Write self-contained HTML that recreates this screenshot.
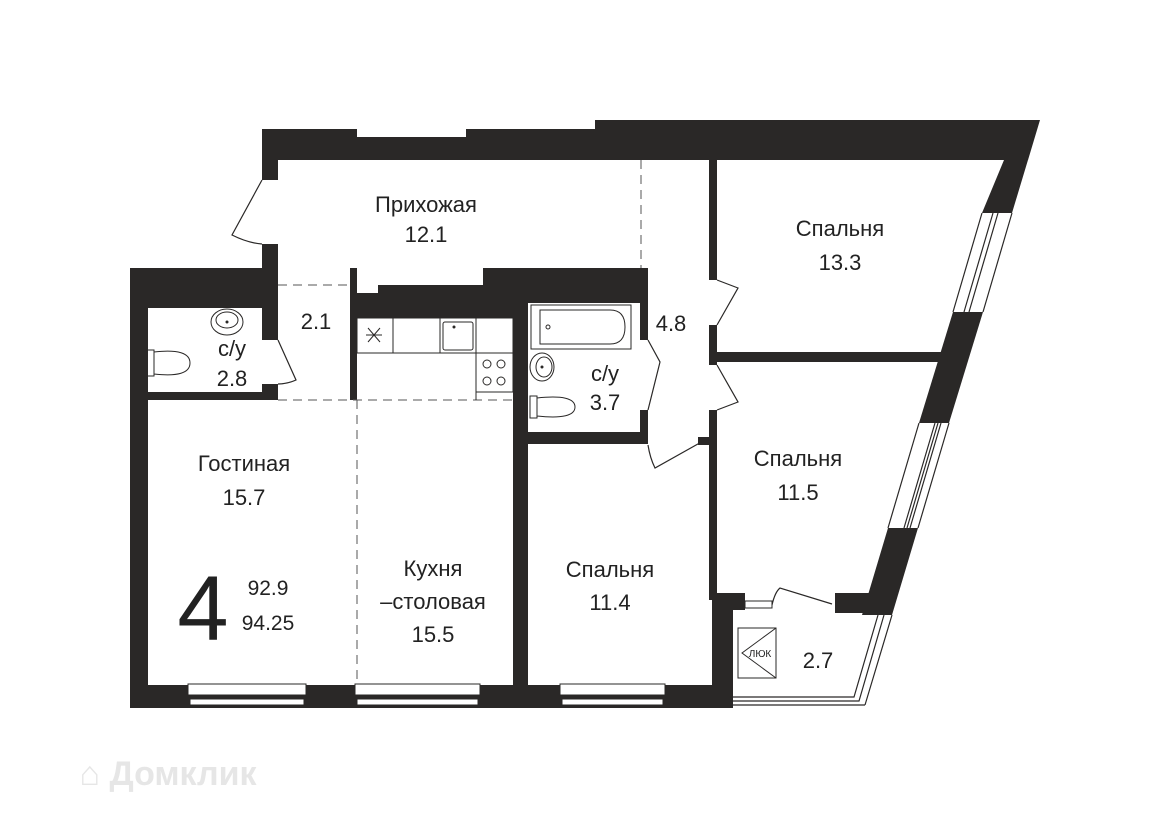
<!DOCTYPE html>
<html><head><meta charset="utf-8"><style>
html,body{margin:0;padding:0;background:#fff;}
svg{display:block}
text{font-family:"Liberation Sans","DejaVu Sans",sans-serif;fill:#222;text-anchor:middle;font-size:22px;}
</style></head><body>
<svg width="1170" height="828" viewBox="0 0 1170 828" xmlns="http://www.w3.org/2000/svg">
<g fill="#2a2827">
<polygon points="262,129 357,129 357,137 466,137 466,129 595,129 595,120 1040,120 1028,160 278,160 278,180 262,180"/>
<polygon points="1040,120 1012,213 982,213 1004,160 1028,160"/>
<polygon points="983,312 949,423 919,423 953,312"/>
<polygon points="918,528 892,615 862,615 888,528"/>
<rect x="262" y="244" width="16" height="64"/>
<rect x="130" y="268" width="148" height="40"/>
<rect x="130" y="268" width="18" height="440"/>
<rect x="148" y="392" width="130" height="8"/>
<rect x="262" y="308" width="16" height="32"/>
<rect x="262" y="384" width="16" height="10"/>
<rect x="350" y="268" width="7" height="132"/>
<polygon points="357,318 357,293 378,293 378,285 483,285 483,268 640,268 640,303 528,303 528,318"/>
<rect x="513" y="268" width="15" height="440"/>
<rect x="513" y="432" width="135" height="12"/>
<rect x="640" y="268" width="8" height="72"/>
<rect x="640" y="410" width="8" height="24"/>
<rect x="709" y="160" width="8" height="120"/>
<rect x="709" y="325" width="8" height="40"/>
<rect x="709" y="410" width="8" height="190"/>
<polygon points="717,352 950,352 947,362 717,362"/>
<rect x="698" y="437" width="12" height="8"/>
<rect x="130" y="685" width="603" height="23"/>
<rect x="712" y="593" width="21" height="115"/>
<rect x="712" y="593" width="33" height="17"/>
<rect x="835" y="593" width="43" height="20"/>
</g>
<g fill="#fff" stroke="#2a2827" stroke-width="1">
<rect x="188" y="684" width="118" height="11"/><rect x="190" y="699" width="114" height="6"/>
<rect x="355" y="684" width="125" height="11"/><rect x="357" y="699" width="121" height="6"/>
<rect x="560" y="684" width="105" height="11"/><rect x="562" y="699" width="101" height="6"/>
<rect x="745" y="601" width="27" height="7"/>
</g>
<g stroke="#2a2827" stroke-width="1.2" fill="none">
<line x1="1012" y1="213" x2="983" y2="312"/>
<line x1="982" y1="213" x2="953" y2="312"/>
<line x1="998" y1="213" x2="969" y2="312"/>
<line x1="993" y1="213" x2="964" y2="312"/>
<line x1="949" y1="423" x2="918" y2="528"/>
<line x1="919" y1="423" x2="888" y2="528"/>
<line x1="935" y1="423" x2="904" y2="528"/>
<line x1="938" y1="423" x2="907" y2="528"/>
<line x1="941" y1="423" x2="910" y2="528"/>
<line x1="892" y1="615" x2="865" y2="705"/>
<polyline points="878,615 854,697 733,697"/>
<polyline points="884,615 859,701 733,701"/>
<line x1="865" y1="705" x2="733" y2="705"/>
</g>
<g stroke="#2a2827" stroke-width="1.2" fill="none">
<path d="M262,180 L232,235 Q248,243 262,244"/>
<path d="M278,340 L296,380 Q287,384 278,384"/>
<path d="M648,340 L660,362 L648,410"/>
<path d="M717,280 L738,288 L717,325"/>
<path d="M717,365 L738,402 L717,410"/>
<path d="M648,445 Q650,458 655,468 L705,440"/>
<path d="M772,605 Q775,592 780,588 L832,604"/>
</g>
<g stroke="#555" stroke-width="1" stroke-dasharray="9,6" fill="none">
<line x1="641" y1="160" x2="641" y2="268"/>
<line x1="278" y1="285" x2="350" y2="285"/>
<line x1="278" y1="400" x2="513" y2="400"/>
<line x1="357" y1="400" x2="357" y2="685"/>
</g>
<g stroke="#2a2827" stroke-width="1" fill="none">
<rect x="357" y="318" width="156" height="35"/>
<line x1="393" y1="318" x2="393" y2="353"/><line x1="440" y1="318" x2="440" y2="353"/><line x1="476" y1="318" x2="476" y2="400"/>
<rect x="476" y="353" width="37" height="39"/>
<rect x="443" y="322" width="30" height="28" rx="2"/>
<path d="M368,328 L380,342 M380,328 L368,342 M366,335 L382,335"/>
<circle cx="487" cy="364" r="4"/><circle cx="501" cy="364" r="4"/><circle cx="487" cy="381" r="4"/><circle cx="501" cy="381" r="4"/>
<rect x="531" y="305" width="100" height="44"/>
<path d="M540,310 L610,310 Q625,310 625,327 Q625,344 610,344 L540,344 Z"/>
<circle cx="548" cy="327" r="2"/>
<ellipse cx="542" cy="367" rx="12" ry="14"/><ellipse cx="544" cy="367" rx="8" ry="10"/>
<path d="M530,396 L537,396 L537,418 L530,418 Z M537,398 Q575,394 575,407 Q575,420 537,416"/>
<ellipse cx="227" cy="322" rx="16" ry="13"/><ellipse cx="227" cy="320" rx="11" ry="8"/>
<path d="M147,350 L154,350 L154,376 L147,376 Z M154,352 Q190,348 190,363 Q190,378 154,374"/>
<rect x="738" y="628" width="38" height="50"/>
<path d="M776,628 L742,653 L776,678"/>
</g>
<circle cx="227" cy="322" r="1.5" fill="#2a2827"/><circle cx="454" cy="327" r="1.5" fill="#2a2827"/><circle cx="542" cy="367" r="1.5" fill="#2a2827"/>
<text x="760" y="657" style="font-size:10px">ЛЮК</text>
<text x="426" y="212">Прихожая</text><text x="426" y="242">12.1</text>
<text x="316" y="329">2.1</text>
<text x="232" y="356">с/у</text><text x="232" y="386">2.8</text>
<text x="605" y="381">с/у</text><text x="605" y="410">3.7</text>
<text x="671" y="331">4.8</text>
<text x="840" y="236">Спальня</text><text x="840" y="270">13.3</text>
<text x="798" y="466">Спальня</text><text x="798" y="500">11.5</text>
<text x="244" y="471">Гостиная</text><text x="244" y="505">15.7</text>
<text x="433" y="576">Кухня</text><text x="433" y="609">–столовая</text><text x="433" y="642">15.5</text>
<text x="610" y="577">Спальня</text><text x="610" y="610">11.4</text>
<text x="818" y="668">2.7</text>
<text x="203" y="640" style="font-size:92px;font-weight:300">4</text>
<text x="268" y="595" style="font-size:21px">92.9</text><text x="268" y="630" style="font-size:21px">94.25</text>
<text x="168" y="785" style="font-size:34px;fill:#e6e6e6;font-weight:bold">⌂ Домклик</text>
</svg>
</body></html>
